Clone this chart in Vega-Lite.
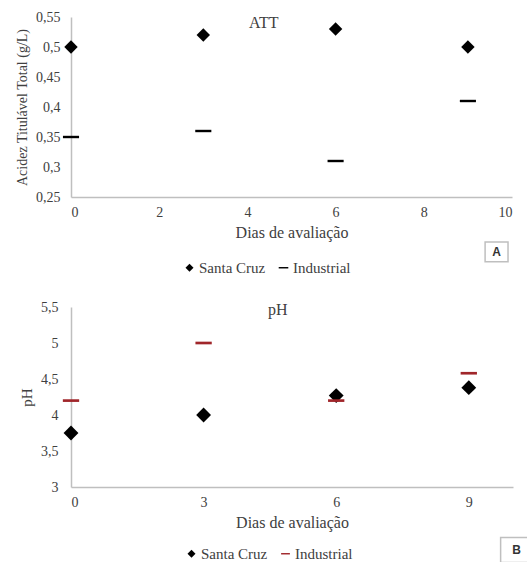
{
  "$schema": "https://vega.github.io/schema/vega-lite/v6.json",
  "padding": {"left": 15, "top": 10, "right": 0, "bottom": 0},
  "background": "white",
  "config": {
    "font": "Liberation Serif",
    "view": {"stroke": null},
    "axis": {"grid": false, "ticks": false, "domainColor": "#bfbfbf", "domainWidth": 1.5, "labelColor": "#404040", "titleColor": "#404040", "titleFontWeight": "normal", "labelFontSize": 14, "titleFontSize": 16, "labelFont": "Liberation Serif", "titleFont": "Liberation Serif"},
    "axisY": {"labelOverlap": false},
    "legend": {"labelFont": "Liberation Serif", "labelFontSize": 15, "labelColor": "#404040", "direction": "horizontal", "title": null, "symbolSize": 64, "columnPadding": 10, "labelOffset": 2},
    "title": {"font": "Liberation Serif", "fontWeight": "normal", "color": "#404040"}
  },
  "datasets": {
    "medidas": [
      {"painel": "A", "dia": 0, "serie": "Santa Cruz", "valor": 0.50},
      {"painel": "A", "dia": 3, "serie": "Santa Cruz", "valor": 0.52},
      {"painel": "A", "dia": 6, "serie": "Santa Cruz", "valor": 0.53},
      {"painel": "A", "dia": 9, "serie": "Santa Cruz", "valor": 0.50},
      {"painel": "A", "dia": 0, "serie": "Industrial", "valor": 0.35},
      {"painel": "A", "dia": 3, "serie": "Industrial", "valor": 0.36},
      {"painel": "A", "dia": 6, "serie": "Industrial", "valor": 0.31},
      {"painel": "A", "dia": 9, "serie": "Industrial", "valor": 0.41},
      {"painel": "B", "dia": 0, "serie": "Santa Cruz", "valor": 3.75},
      {"painel": "B", "dia": 3, "serie": "Santa Cruz", "valor": 4.00},
      {"painel": "B", "dia": 6, "serie": "Santa Cruz", "valor": 4.27},
      {"painel": "B", "dia": 9, "serie": "Santa Cruz", "valor": 4.38},
      {"painel": "B", "dia": 0, "serie": "Industrial", "valor": 4.20},
      {"painel": "B", "dia": 3, "serie": "Industrial", "valor": 5.00},
      {"painel": "B", "dia": 6, "serie": "Industrial", "valor": 4.20},
      {"painel": "B", "dia": 9, "serie": "Industrial", "valor": 4.58}
    ],
    "rotulos": [
      {"painel": "A", "rotulo": "A", "x": 9.65, "x1": 9.39, "x2": 9.91, "y": 0.158, "y1": 0.142, "y2": 0.175},
      {"painel": "B", "rotulo": "B", "x": 10.08, "x1": 9.72, "x2": 10.5, "y": 2.13, "y1": 1.95, "y2": 2.3}
    ]
  },
  "spacing": 24,
  "resolve": {
    "scale": {"color": "independent", "shape": "independent", "x": "independent", "y": "independent"},
    "legend": {"color": "independent", "shape": "independent"}
  },
  "vconcat": [
    {
      "width": 441,
      "height": 180,
      "title": {"text": "ATT", "fontSize": 16, "anchor": "middle", "frame": "bounds", "offset": -21},
      "layer": [
        {
          "data": {"name": "medidas"},
          "transform": [{"filter": "datum.painel === 'A'"}],
          "mark": {"type": "point", "filled": true, "opacity": 1, "size": 180},
          "encoding": {
            "x": {"field": "dia", "type": "quantitative", "scale": {"domain": [0, 10], "nice": false}, "axis": {"values": [0, 2, 4, 6, 8, 10], "format": "d", "title": "Dias de avaliação", "labelPadding": 8, "titlePadding": 5}},
            "y": {"field": "valor", "type": "quantitative", "scale": {"domain": [0.25, 0.55], "nice": false, "zero": false}, "axis": {"tickCount": 7, "labelOverlap": false, "labelExpr": "replace(toString(round(datum.value * 100) / 100), '.', ',')", "title": "Acidez Titulável Total (g/L)", "titleFontSize": 14, "labelPadding": 11, "titlePadding": 6}},
            "shape": {"field": "serie", "type": "nominal", "scale": {"domain": ["Santa Cruz", "Industrial"], "range": ["diamond", "M-1.2,-0.18H1.2V0.18H-1.2Z"]}, "legend": {"orient": "none", "legendX": 111, "legendY": 243}},
            "color": {"field": "serie", "type": "nominal", "scale": {"domain": ["Santa Cruz", "Industrial"], "range": ["#000000", "#000000"]}, "legend": {"orient": "none", "legendX": 111, "legendY": 243}}
          }
        },
        {
          "data": {"name": "rotulos"},
          "transform": [{"filter": "datum.painel === 'A'"}],
          "mark": {"type": "rect", "fill": "white", "stroke": "#bfbfbf", "strokeWidth": 1.5},
          "encoding": {
            "x": {"field": "x1", "type": "quantitative"},
            "x2": {"field": "x2"},
            "y": {"field": "y1", "type": "quantitative"},
            "y2": {"field": "y2"}
          }
        },
        {
          "data": {"name": "rotulos"},
          "transform": [{"filter": "datum.painel === 'A'"}],
          "mark": {"type": "text", "font": "Liberation Sans", "fontWeight": "bold", "fontSize": 12, "color": "#333333"},
          "encoding": {
            "x": {"field": "x", "type": "quantitative"},
            "y": {"field": "y", "type": "quantitative"},
            "text": {"field": "rotulo"}
          }
        }
      ]
    },
    {
      "width": 442,
      "height": 180,
      "title": {"text": "pH", "fontSize": 16, "anchor": "middle", "frame": "bounds", "offset": -18},
      "layer": [
        {
          "data": {"name": "medidas"},
          "transform": [{"filter": "datum.painel === 'B'"}],
          "mark": {"type": "point", "filled": true, "opacity": 1, "size": 220},
          "encoding": {
            "x": {"field": "dia", "type": "quantitative", "scale": {"domain": [0, 10], "nice": false}, "axis": {"values": [0, 3, 6, 9], "format": "d", "title": "Dias de avaliação", "labelPadding": 8, "titlePadding": 5}},
            "y": {"field": "valor", "type": "quantitative", "scale": {"domain": [3, 5.5], "nice": false, "zero": false}, "axis": {"tickCount": 6, "labelOverlap": false, "labelExpr": "replace(toString(datum.value), '.', ',')", "title": "pH", "titleFontSize": 15, "labelPadding": 13, "titlePadding": 6}},
            "shape": {"field": "serie", "type": "nominal", "scale": {"domain": ["Santa Cruz", "Industrial"], "range": ["diamond", "M-1.1,-0.18H1.1V0.18H-1.1Z"]}, "legend": {"orient": "none", "legendX": 113, "legendY": 239}},
            "color": {"field": "serie", "type": "nominal", "scale": {"domain": ["Santa Cruz", "Industrial"], "range": ["#000000", "#a0262a"]}, "legend": {"orient": "none", "legendX": 113, "legendY": 239}}
          }
        },
        {
          "data": {"name": "rotulos"},
          "transform": [{"filter": "datum.painel === 'B'"}],
          "mark": {"type": "rect", "fill": "white", "stroke": "#bfbfbf", "strokeWidth": 1.5},
          "encoding": {
            "x": {"field": "x1", "type": "quantitative"},
            "x2": {"field": "x2"},
            "y": {"field": "y1", "type": "quantitative"},
            "y2": {"field": "y2"}
          }
        },
        {
          "data": {"name": "rotulos"},
          "transform": [{"filter": "datum.painel === 'B'"}],
          "mark": {"type": "text", "font": "Liberation Sans", "fontWeight": "bold", "fontSize": 12, "color": "#333333"},
          "encoding": {
            "x": {"field": "x", "type": "quantitative"},
            "y": {"field": "y", "type": "quantitative"},
            "text": {"field": "rotulo"}
          }
        }
      ]
    }
  ]
}
